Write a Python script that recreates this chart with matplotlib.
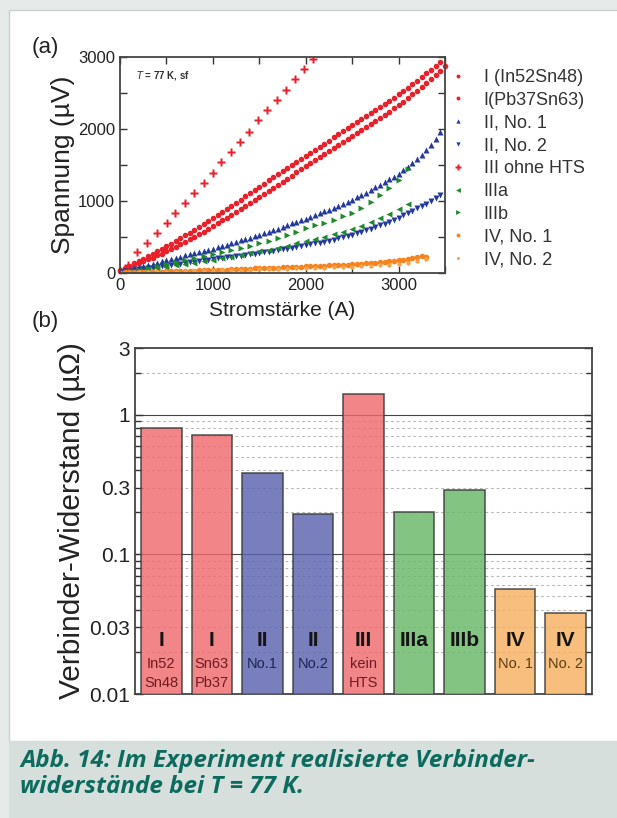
import numpy as np
import matplotlib
matplotlib.use("Agg")
import matplotlib.pyplot as plt
from matplotlib.patches import Rectangle
from matplotlib.ticker import MultipleLocator, FixedLocator, NullFormatter

plt.rcParams["font.family"] = ["Liberation Sans", "DejaVu Sans"]

# ---- panel (a): voltage vs. current ----
current_50 = np.arange(0, 3501, 50)
current_100 = np.arange(0, 3301, 100)

v_in52sn48 = [40, 70, 100, 135, 165, 200, 230, 265, 300, 335, 370,
              408, 446, 484, 522, 560, 600, 640, 680, 720, 760,
              803, 846, 890, 933, 976, 1020, 1064, 1108, 1154, 1200,
              1243, 1286, 1329, 1372, 1415, 1458, 1501, 1544, 1587, 1630,
              1672, 1714, 1756, 1798, 1840, 1882, 1924, 1966, 2008, 2050,
              2093, 2136, 2179, 2222, 2265, 2308, 2351, 2394, 2437, 2480,
              2525, 2572, 2620, 2670, 2720, 2772, 2825, 2878, 2930]
v_pb37sn63 = [30, 55, 80, 105, 135, 160, 190, 215, 245, 270, 300,
              333, 366, 400, 435, 470, 505, 540, 575, 612, 650,
              690, 730, 770, 810, 850, 892, 934, 976, 1018, 1060,
              1102, 1144, 1186, 1228, 1270, 1312, 1354, 1396, 1438, 1480,
              1522, 1564, 1606, 1648, 1690, 1732, 1774, 1816, 1858, 1900,
              1942, 1984, 2026, 2068, 2111, 2154, 2197, 2241, 2285, 2330,
              2378, 2428, 2480, 2532, 2585, 2640, 2695, 2752, 2810, 2870]
v_ii_no1 = [20, 35, 50, 65, 80, 95, 112, 128, 145, 162, 180,
            196, 212, 228, 244, 260, 276, 292, 308, 324, 340,
            358, 376, 395, 414, 433, 452, 472, 491, 510, 530,
            552, 574, 596, 618, 641, 664, 688, 712, 736, 755,
            780, 805, 830, 855, 880, 905, 932, 960, 990, 1020,
            1052, 1085, 1118, 1153, 1190, 1226, 1263, 1300, 1340, 1380,
            1428, 1478, 1530, 1584, 1640, 1705, 1775, 1860, 1960]
v_ii_no2 = [15, 24, 32, 41, 49, 58, 66, 75, 83, 92, 100,
            110, 119, 129, 138, 148, 157, 167, 176, 186, 195,
            203, 211, 219, 227, 235, 243, 251, 259, 267, 275,
            285, 296, 307, 318, 329, 340, 351, 362, 373, 385,
            397, 410, 423, 437, 451, 465, 480, 497, 513, 530,
            550, 571, 592, 614, 637, 661, 687, 713, 741, 770,
            800, 831, 863, 896, 930, 965, 1002, 1040, 1080]
i_iii = [90, 187, 290, 395, 502, 596, 700, 800, 904, 1005, 1091,
         1192, 1296, 1393, 1490, 1586, 1687, 1784, 1888, 1985, 2082]
v_iii = [115, 286, 415, 554, 692, 831, 974, 1108, 1250, 1385, 1541,
         1680, 1818, 1957, 2123, 2261, 2409, 2548, 2695, 2838, 2977]
i_green = np.arange(100, 3101, 100)
v_iiia = [25, 40, 56, 73, 90, 108, 126, 144, 162, 180,
          203, 226, 250, 275, 300, 325, 352, 380, 410, 440,
          472, 505, 540, 575, 612, 655, 705, 760, 820, 885, 960]
v_iiib = [25, 48, 70, 95, 120, 147, 175, 203, 231, 260,
          290, 320, 350, 380, 412, 450, 490, 530, 575, 620,
          660, 700, 740, 785, 830, 900, 990, 1085, 1180, 1290, 1450]
v_iv_no1 = [5, 7, 9, 11, 13, 15, 17, 18, 19, 20, 21,
            23, 25, 27, 29, 31, 33, 35, 37, 39, 41,
            43, 46, 48, 51, 53, 56, 58, 61, 63, 66,
            68, 71, 73, 76, 78, 81, 83, 86, 88, 91,
            94, 97, 100, 103, 106, 109, 112, 115, 118, 121,
            126, 130, 135, 140, 145, 150, 156, 162, 168, 174,
            182, 192, 204, 218, 230, 225]
v_iv_no2 = [3, 6, 9, 12, 15, 17, 20, 23, 26, 29, 32,
            35, 38, 42, 45, 49, 52, 56, 59, 63, 67,
            71, 75, 79, 84, 89, 95, 101, 108, 116, 125,
            140, 165, 200]

# ---- panel (b): connector resistance ----
bar_numerals = ["I", "I", "II", "II", "III", "IIIa", "IIIb", "IV", "IV"]
bar_sublabels = ["In52\nSn48", "Sn63\nPb37", "No.1", "No.2", "kein\nHTS", "", "", "No. 1", "No. 2"]
bar_values = [0.80, 0.71, 0.385, 0.194, 1.41, 0.20, 0.29, 0.0566, 0.0377]
bar_groups = ["red", "red", "blue", "blue", "red", "green", "green", "orange", "orange"]

red = "#e8202a"
blue = "#24399e"
green = "#1f8a2a"
orange = "#f5841f"
bar_colors = {"red": "#ee6a6e", "blue": "#5c63ae", "green": "#68b868", "orange": "#f6b060"}
text_colors = {"red": "#6e1c20", "blue": "#1e2358", "green": "#123d12", "orange": "#5c3c12"}
dark = "#333333"

fig = plt.figure(figsize=(6.17, 8.18), dpi=100)
fig.patch.set_facecolor("#e6ebe9")

# page background and caption band
fig.patches.append(Rectangle((9 / 617, 1 - 741 / 818), 1, 731 / 818, transform=fig.transFigure,
                             facecolor="white", edgecolor="#c9d1ce", lw=1.0, zorder=-10))
fig.patches.append(Rectangle((9 / 617, 0), 1, 77 / 818, transform=fig.transFigure,
                             facecolor="#d6dfdb", edgecolor="none", zorder=-10))

# ---------- panel (a) ----------
ax = fig.add_axes([120 / 617, 1 - 273 / 818, 325 / 617, 216 / 818])
ax.plot(current_50[:len(v_in52sn48)], v_in52sn48, ls="none", marker="o", ms=4.0, color=red,
        mec="none", label="I (In52Sn48)", clip_on=False)
ax.plot(current_50[:len(v_pb37sn63)], v_pb37sn63, ls="none", marker="o", ms=4.0, color=red,
        mec="none", label="I(Pb37Sn63)", clip_on=False)
ax.plot(current_50[:len(v_ii_no1)], v_ii_no1, ls="none", marker="^", ms=4.4, color=blue,
        mec="none", label="II, No. 1")
ax.plot(current_50[:len(v_ii_no2)], v_ii_no2, ls="none", marker="v", ms=4.4, color=blue,
        mec="none", label="II, No. 2")
ax.plot(i_iii, v_iii, ls="none", marker="P", ms=6.0, color=red, mec="none", label="III ohne HTS")
ax.plot(i_green, v_iiia, ls="none", marker="<", ms=5.0, color=green, mec="none", label="IIIa")
ax.plot(i_green, v_iiib, ls="none", marker=">", ms=5.0, color=green, mec="none", label="IIIb")
ax.plot(current_50[:len(v_iv_no1)], v_iv_no1, ls="none", marker="o", ms=4.0, color=orange,
        mec="none", label="IV, No. 1")
ax.plot(current_100[:len(v_iv_no2)], v_iv_no2, ls="none", marker="h", ms=3.4, color="#f7a24a",
        mec="none", label="IV, No. 2")

ax.set_xlim(0, 3500)
ax.set_ylim(0, 3000)
ax.xaxis.set_major_locator(MultipleLocator(1000))
ax.xaxis.set_minor_locator(MultipleLocator(500))
ax.yaxis.set_major_locator(MultipleLocator(1000))
ax.yaxis.set_minor_locator(MultipleLocator(500))
ax.tick_params(which="both", direction="in", top=True, right=True, labelsize=12, colors=dark,
               labelcolor="#222222")
ax.tick_params(which="major", length=5, width=1.0)
ax.tick_params(which="minor", length=5, width=1.0)
for sp in ax.spines.values():
    sp.set_color("#444444")
    sp.set_linewidth(1.3)
ax.set_xlabel("Stromstärke (A)", fontsize=15, color="#222222", labelpad=6)
ax.set_ylabel("Spannung (µV)", fontsize=19, color="#222222", labelpad=2)
ax.text(0.05, 0.9, r"$T$ = 77 K, sf", transform=ax.transAxes, fontsize=7, color="#333333",
        fontweight="bold")

fig.legend(handles=ax.get_lines(), loc="upper left", bbox_to_anchor=(444 / 617, 1 - 60 / 818),
           frameon=False, fontsize=13, markerscale=0.7, handlelength=0.6, handletextpad=1.1,
           labelspacing=0.32, borderpad=0, labelcolor="#333333")

fig.text(32 / 617, 1 - 47 / 818, "(a)", fontsize=16, color="#222222", va="center")
fig.text(32 / 617, 1 - 322 / 818, "(b)", fontsize=16, color="#222222", va="center")

# ---------- panel (b) ----------
bx = fig.add_axes([135 / 617, 1 - 694 / 818, 457 / 617, 346 / 818])
bx.set_yscale("log")
bx.set_ylim(0.01, 3)
bx.set_xlim(-0.52, 8.52)
xpos = np.arange(len(bar_values))

for yv in [1, 0.1]:
    bx.axhline(yv, color="#444444", lw=0.8, zorder=1)
minor_vals = [2, 0.9, 0.8, 0.7, 0.6, 0.5, 0.4, 0.3, 0.2, 0.09, 0.08, 0.07, 0.06, 0.05, 0.04, 0.03, 0.02]
for yv in minor_vals:
    bx.axhline(yv, color="#b8b8b8", lw=0.8, ls=(0, (2.5, 2.5)), zorder=1)

bx.bar(xpos, bar_values, width=0.8, bottom=0.0,
       color=[bar_colors[g] for g in bar_groups], edgecolor="#3a3a3a", linewidth=1.2,
       alpha=0.82, zorder=3)

for x, num, sub, grp in zip(xpos, bar_numerals, bar_sublabels, bar_groups):
    bx.text(x, 0.0240, num, ha="center", va="center", fontsize=15, fontweight="bold",
            color="#151515", zorder=4)
    lines = sub.split("\n") if sub else []
    for k, line in enumerate(lines):
        bx.text(x, [0.0163, 0.0120][k], line, ha="center", va="center", fontsize=10.5,
                color=text_colors[grp], zorder=4)

bx.yaxis.set_major_locator(FixedLocator([0.01, 0.03, 0.1, 0.3, 1, 3]))
bx.set_yticklabels(["0.01", "0.03", "0.1", "0.3", "1", "3"])
bx.yaxis.set_minor_locator(FixedLocator(minor_vals))
bx.yaxis.set_minor_formatter(NullFormatter())
bx.set_xticks([])
bx.tick_params(axis="y", which="both", direction="in", right=True, labelsize=15,
               labelcolor="#222222", colors=dark)
bx.tick_params(axis="y", which="major", length=6, width=1.0)
bx.tick_params(axis="y", which="minor", length=4, width=1.0)
for sp in bx.spines.values():
    sp.set_color("#444444")
    sp.set_linewidth(1.3)
bx.set_ylabel("Verbinder-Widerstand (µΩ)", fontsize=21.5, color="#222222", labelpad=2)

# caption
cap_kw = dict(fontsize=17.5, fontweight="bold", fontstyle="italic", color="#0c6b5e",
              va="baseline", family=["Open Sans", "DejaVu Sans"])
fig.text(20 / 617, 1 - 767 / 818, "Abb. 14: Im Experiment realisierte Verbinder-", **cap_kw)
fig.text(20 / 617, 1 - 793 / 818, "widerstände bei T = 77 K.", **cap_kw)

fig.savefig("out.png", dpi=100)
